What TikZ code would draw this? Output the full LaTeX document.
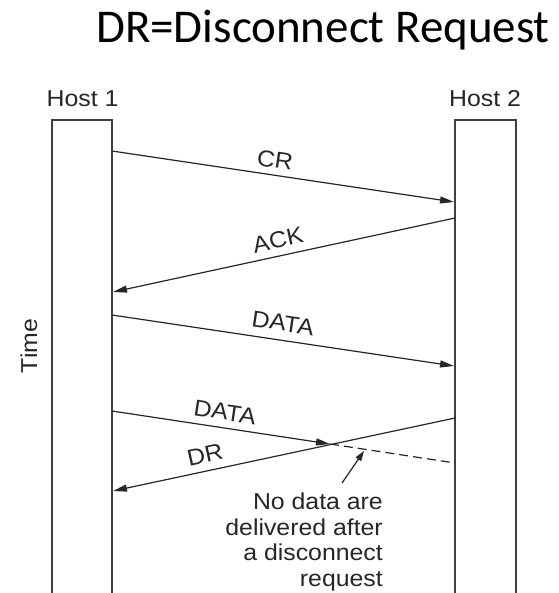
\documentclass[tikz,border=0pt]{standalone}
\usepackage{fontspec}
\usetikzlibrary{arrows.meta}
\newfontfamily\figfont[FakeStretch=1.08]{Liberation Sans}
\newfontfamily\headfont{Carlito}

\begin{document}
\begin{tikzpicture}[x=1pt,y=-1pt,
  line/.style={line width=1.2pt, draw=black!85},
  bar/.style={line width=1.3pt, draw=black!75},
  msg/.style={line, -{Triangle[length=14pt,width=7pt]}},
  lost/.style={line, dash pattern=on 9pt off 5pt},
  pointer/.style={line, -{Triangle[length=10pt,width=6.5pt]}},
  lbl/.style={font=\figfont\fontsize{23}{25.5}\selectfont, text=black!85, inner sep=0pt},
  title/.style={font=\headfont\fontsize{47}{56}\selectfont, text=black, inner sep=0pt},
]
\useasboundingbox (0,0) rectangle (558,593);

% heading
\node[title, anchor=base east] (head) at (550,43) {DR=Disconnect Request};

% host columns (open at the bottom)
\coordinate (h1bl) at (52,600);  \coordinate (h1tl) at (52,120);
\coordinate (h1tr) at (112,120); \coordinate (h1br) at (112,600);
\coordinate (h2bl) at (455,600); \coordinate (h2tl) at (455,120);
\coordinate (h2tr) at (516,120); \coordinate (h2br) at (516,600);
\draw[bar] (h1bl) -- (h1tl) -- (h1tr) -- (h1br);
\draw[bar] (h2bl) -- (h2tl) -- (h2tr) -- (h2br);

\node[lbl, anchor=base] (host1) at (82.5,107) {Host 1};
\node[lbl, anchor=base] (host2) at (485,107) {Host 2};
\node[lbl, rotate=90] (time) at (29,346) {Time};

% message end points
\coordinate (crA)   at (112,151); \coordinate (crB)   at (454,202);
\coordinate (ackA)  at (455,218); \coordinate (ackB)  at (113,292);
\coordinate (d1A)   at (112,315); \coordinate (d1B)   at (454,366);
\coordinate (d2A)   at (112,411); \coordinate (cross) at (330,444);
\coordinate (d2B)   at (455,463);
\coordinate (drA)   at (455,418); \coordinate (drB)   at (113,491);

% messages
\draw[msg] (crA) -- (crB);
\draw[msg] (ackA) -- (ackB);
\draw[msg] (d1A) -- (d1B);
\draw[msg] (d2A) -- (cross);
\draw[lost] (cross) -- (d2B);
\draw[msg] (drA) -- (drB);

% message labels
\node[lbl, rotate=-8.5] (crl)  at (275,160) {CR};
\node[lbl, rotate=12.2] (ackl) at (278,240) {ACK};
\node[lbl, rotate=-8.5] (d1l)  at (283,323) {DATA};
\node[lbl, rotate=-8.6] (d2l)  at (225,412) {DATA};
\node[lbl, rotate=12.2] (drl)  at (205,455) {DR};

% note
\node[lbl, align=right, anchor=north east] (note) at (383,493)
  {No data are\\delivered after\\a disconnect\\request};
\coordinate (ptail) at (342,483);
\coordinate (phead) at (364,451);
\draw[pointer] (ptail) -- (phead);
\end{tikzpicture}
\end{document}
